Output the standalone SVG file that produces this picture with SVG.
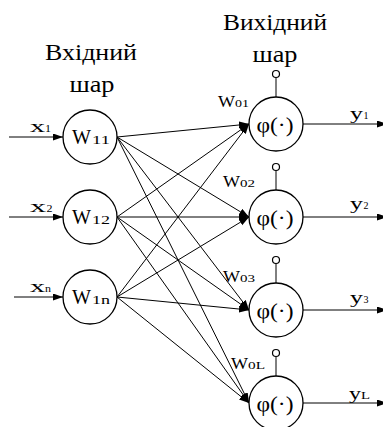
<svg xmlns="http://www.w3.org/2000/svg" width="383" height="427" viewBox="0 0 383 427">
<defs>
<style>
text{font-family:'Liberation Serif',Tinos,'Nimbus Roman','Nimbus Roman No9 L',FreeSerif,'DejaVu Serif',serif;fill:#000}
.h{font-size:23px;text-anchor:middle}
.n{fill:#fff;stroke:#000;stroke-width:1.3}
.c{stroke:#000;stroke-width:1;fill:none}
.b{fill:#fff;stroke:#000;stroke-width:1.2}
.W{font-size:20px}
.s{font-size:12px}
.w0{font-size:16px}
.s0{font-size:11px}
.p{font-size:22px;text-anchor:middle}
.lx{font-size:17px}
</style>
<marker id="a" markerUnits="userSpaceOnUse" markerWidth="10" markerHeight="8" refX="10" refY="3.5" orient="auto">
<path d="M0,0 L10,3.5 L0,7 z" fill="#000"/>
</marker>
</defs>
<rect width="383" height="427" fill="#fff"/>

<g id="headings">
<text class="h" x="91" y="60" textLength="92" lengthAdjust="spacingAndGlyphs">Вхідний</text>
<text class="h" x="92" y="92" textLength="45" lengthAdjust="spacingAndGlyphs">шар</text>
<text class="h" x="275" y="30" textLength="104" lengthAdjust="spacingAndGlyphs">Вихідний</text>
<text class="h" x="275" y="62" textLength="45" lengthAdjust="spacingAndGlyphs">шар</text>
</g>

<g id="connectors">
<line class="c" x1="9" y1="137" x2="63" y2="137" marker-end="url(#a)"/>
<line class="c" x1="9" y1="217" x2="63" y2="217" marker-end="url(#a)"/>
<line class="c" x1="14" y1="297" x2="63" y2="297" marker-end="url(#a)"/>
<line class="c" x1="117" y1="137" x2="249" y2="124" marker-end="url(#a)"/>
<line class="c" x1="117" y1="137" x2="249" y2="217" marker-end="url(#a)"/>
<line class="c" x1="117" y1="137" x2="249" y2="310" marker-end="url(#a)"/>
<line class="c" x1="117" y1="137" x2="249" y2="403" marker-end="url(#a)"/>
<line class="c" x1="117" y1="217" x2="249" y2="124" marker-end="url(#a)"/>
<line class="c" x1="117" y1="217" x2="249" y2="217" marker-end="url(#a)"/>
<line class="c" x1="117" y1="217" x2="249" y2="310" marker-end="url(#a)"/>
<line class="c" x1="117" y1="217" x2="249" y2="403" marker-end="url(#a)"/>
<line class="c" x1="117" y1="297" x2="249" y2="124" marker-end="url(#a)"/>
<line class="c" x1="117" y1="297" x2="249" y2="217" marker-end="url(#a)"/>
<line class="c" x1="117" y1="297" x2="249" y2="310" marker-end="url(#a)"/>
<line class="c" x1="117" y1="297" x2="249" y2="403" marker-end="url(#a)"/>
<line class="c" x1="303" y1="124" x2="387" y2="124" marker-end="url(#a)"/>
<line class="c" x1="303" y1="217" x2="387" y2="217" marker-end="url(#a)"/>
<line class="c" x1="303" y1="310" x2="387" y2="310" marker-end="url(#a)"/>
<line class="c" x1="303" y1="403" x2="387" y2="403" marker-end="url(#a)"/>
</g>

<g id="in-labels">
<text class="lx" x="30" y="132" textLength="15" lengthAdjust="spacingAndGlyphs">x</text>
<text class="s0" x="45" y="132" textLength="6" lengthAdjust="spacingAndGlyphs">1</text>
<text class="lx" x="30" y="212" textLength="16" lengthAdjust="spacingAndGlyphs">x</text>
<text class="s0" x="46.5" y="212" textLength="6" lengthAdjust="spacingAndGlyphs">2</text>
<text class="lx" x="30" y="292" textLength="15" lengthAdjust="spacingAndGlyphs">x</text>
<text class="s0" x="45" y="292" textLength="6" lengthAdjust="spacingAndGlyphs">n</text>
</g>

<g id="node-w11">
<circle class="n" cx="90" cy="137" r="27"/>
<text class="W" x="72" y="144" textLength="19" lengthAdjust="spacingAndGlyphs">W</text>
<text class="s" x="92" y="144" textLength="18" lengthAdjust="spacingAndGlyphs">11</text>
</g>
<g id="node-w12">
<circle class="n" cx="90" cy="217" r="27"/>
<text class="W" x="72" y="224" textLength="19" lengthAdjust="spacingAndGlyphs">W</text>
<text class="s" x="92" y="224" textLength="18" lengthAdjust="spacingAndGlyphs">12</text>
</g>
<g id="node-w1n">
<circle class="n" cx="90" cy="297" r="27"/>
<text class="W" x="72" y="304" textLength="19" lengthAdjust="spacingAndGlyphs">W</text>
<text class="s" x="92" y="304" textLength="18" lengthAdjust="spacingAndGlyphs">1n</text>
</g>

<g id="node-out1">
<line class="c" x1="276" y1="97" x2="276" y2="77.5"/>
<circle class="b" cx="276" cy="74" r="3.5"/>
<circle class="n" cx="276" cy="124" r="27"/>
<text class="p" x="275" y="132" textLength="37" lengthAdjust="spacingAndGlyphs">φ(·)</text>
<text class="w0" x="218" y="107" textLength="17" lengthAdjust="spacingAndGlyphs">W</text>
<text class="s0" x="235" y="107" textLength="14" lengthAdjust="spacingAndGlyphs">01</text>
<text class="lx" x="350" y="119" textLength="13" lengthAdjust="spacingAndGlyphs">y</text>
<text class="s0" x="363.5" y="119" textLength="5" lengthAdjust="spacingAndGlyphs">1</text>
</g>
<g id="node-out2">
<line class="c" x1="276" y1="190" x2="276" y2="170.5"/>
<circle class="b" cx="276" cy="167" r="3.5"/>
<circle class="n" cx="276" cy="217" r="27"/>
<text class="p" x="275" y="225" textLength="37" lengthAdjust="spacingAndGlyphs">φ(·)</text>
<text class="w0" x="223" y="187" textLength="17" lengthAdjust="spacingAndGlyphs">W</text>
<text class="s0" x="240" y="187" textLength="15" lengthAdjust="spacingAndGlyphs">02</text>
<text class="lx" x="350" y="209" textLength="13" lengthAdjust="spacingAndGlyphs">y</text>
<text class="s0" x="363.5" y="209" textLength="5" lengthAdjust="spacingAndGlyphs">2</text>
</g>
<g id="node-out3">
<line class="c" x1="276" y1="283" x2="276" y2="263.5"/>
<circle class="b" cx="276" cy="260" r="3.5"/>
<circle class="n" cx="276" cy="310" r="27"/>
<text class="p" x="275" y="318" textLength="37" lengthAdjust="spacingAndGlyphs">φ(·)</text>
<text class="w0" x="223" y="282" textLength="17" lengthAdjust="spacingAndGlyphs">W</text>
<text class="s0" x="240" y="282" textLength="15" lengthAdjust="spacingAndGlyphs">03</text>
<text class="lx" x="350" y="303" textLength="13" lengthAdjust="spacingAndGlyphs">y</text>
<text class="s0" x="363.5" y="303" textLength="5" lengthAdjust="spacingAndGlyphs">3</text>
</g>
<g id="node-outL">
<line class="c" x1="276" y1="376" x2="276" y2="356.5"/>
<circle class="b" cx="276" cy="353" r="3.5"/>
<circle class="n" cx="276" cy="403" r="27"/>
<text class="p" x="275" y="411" textLength="37" lengthAdjust="spacingAndGlyphs">φ(·)</text>
<text class="w0" x="231" y="369" textLength="17" lengthAdjust="spacingAndGlyphs">W</text>
<text class="s0" x="248" y="369" textLength="17" lengthAdjust="spacingAndGlyphs">0L</text>
<text class="lx" x="349" y="399" textLength="12" lengthAdjust="spacingAndGlyphs">y</text>
<text class="s0" x="361" y="399" textLength="9" lengthAdjust="spacingAndGlyphs">L</text>
</g>
</svg>
